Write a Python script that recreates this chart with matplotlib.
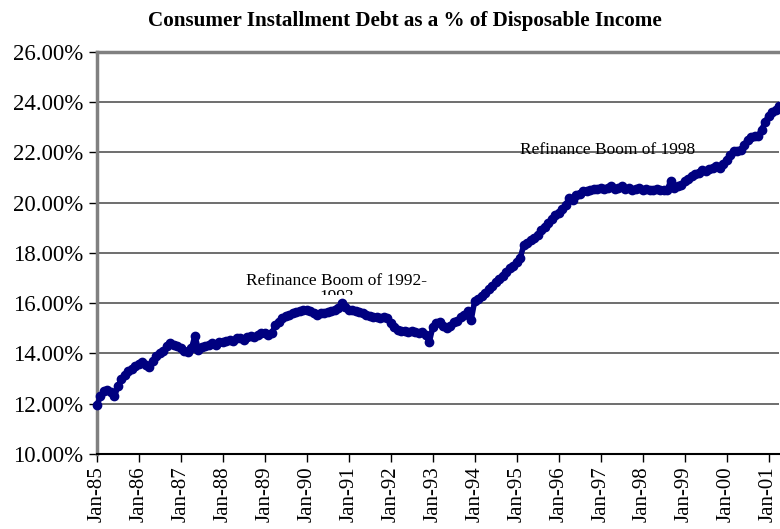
import matplotlib
matplotlib.use('Agg')
import matplotlib.pyplot as plt
from matplotlib.transforms import Bbox
from matplotlib.ticker import FuncFormatter

# monthly debt / disposable income (%), Jan-85 .. Apr-01
y1985 = [11.95, 12.30, 12.50, 12.55, 12.45, 12.30, 12.70, 13.00, 13.15, 13.30, 13.40, 13.50]
y1986 = [13.60, 13.65, 13.55, 13.45, 13.70, 13.90, 14.00, 14.10, 14.30, 14.40, 14.35, 14.30]
y1987 = [14.20, 14.10, 14.05, 14.20, 14.70, 14.15, 14.25, 14.30, 14.35, 14.40, 14.35, 14.45]
y1988 = [14.45, 14.50, 14.55, 14.50, 14.60, 14.60, 14.55, 14.65, 14.70, 14.65, 14.75, 14.80]
y1989 = [14.80, 14.75, 14.80, 15.15, 15.25, 15.40, 15.50, 15.55, 15.60, 15.65, 15.70, 15.75]
y1990 = [15.75, 15.70, 15.60, 15.55, 15.60, 15.60, 15.65, 15.70, 15.75, 15.80, 16.00, 15.85]
y1991 = [15.75, 15.75, 15.70, 15.65, 15.60, 15.55, 15.50, 15.45, 15.45, 15.40, 15.45, 15.40]
y1992 = [15.20, 15.05, 14.95, 14.90, 14.90, 14.85, 14.90, 14.85, 14.80, 14.85, 14.75, 14.45]
y1993 = [15.05, 15.20, 15.25, 15.10, 15.00, 15.10, 15.25, 15.30, 15.45, 15.55, 15.70, 15.35]
y1994 = [16.10, 16.15, 16.30, 16.40, 16.55, 16.70, 16.85, 16.95, 17.10, 17.25, 17.40, 17.50]
y1995 = [17.65, 17.80, 18.30, 18.40, 18.50, 18.60, 18.70, 18.90, 19.05, 19.20, 19.35, 19.50]
y1996 = [19.60, 19.75, 19.90, 20.20, 20.10, 20.30, 20.35, 20.45, 20.45, 20.50, 20.55, 20.55]
y1997 = [20.60, 20.55, 20.60, 20.65, 20.55, 20.60, 20.65, 20.55, 20.60, 20.50, 20.55, 20.60]
y1998 = [20.50, 20.55, 20.50, 20.50, 20.55, 20.50, 20.50, 20.50, 20.85, 20.60, 20.65, 20.70]
y1999 = [20.85, 20.95, 21.05, 21.15, 21.20, 21.30, 21.25, 21.35, 21.40, 21.45, 21.40, 21.55]
y2000 = [21.70, 21.90, 22.05, 22.05, 22.10, 22.30, 22.50, 22.60, 22.65, 22.65, 22.90, 23.20]
y2001 = [23.45, 23.60, 23.70, 23.85]

tick_labels = ['Jan-85', 'Jan-86', 'Jan-87', 'Jan-88', 'Jan-89', 'Jan-90', 'Jan-91', 'Jan-92',
               'Jan-93', 'Jan-94', 'Jan-95', 'Jan-96', 'Jan-97', 'Jan-98', 'Jan-99', 'Jan-00', 'Jan-01']

values = (y1985 + y1986 + y1987 + y1988 + y1989 + y1990 + y1991 + y1992 + y1993
          + y1994 + y1995 + y1996 + y1997 + y1998 + y1999 + y2000 + y2001)
idx = list(range(len(values)))

plt.rcParams['font.family'] = ['Liberation Serif', 'DejaVu Serif']

fig = plt.figure(figsize=(7.8, 5.29), dpi=100)
ax = fig.add_axes([97 / 780, 1 - 454 / 529, 682 / 780, 402 / 529])

navy = '#000080'
ax.plot(idx, values, color=navy, lw=4, marker='o', ms=6, mec=navy, mfc=navy, zorder=3,
        clip_on=False)

ax.set_xlim(0, len(values) - 1)
ax.set_ylim(10, 26)
ax.set_yticks(range(10, 27, 2))
ax.yaxis.set_major_formatter(FuncFormatter(lambda v, p: '%.2f%%' % v))
ax.set_xticks(range(0, 12 * len(tick_labels), 12))
ax.set_xticklabels(tick_labels, rotation=90, va='top', ha='center')
ax.tick_params(axis='y', labelsize=16.5, length=6, width=1, pad=4, colors='black')
ax.tick_params(axis='x', labelsize=15, length=6, width=1, pad=3)

ax.grid(axis='y', color='#555555', lw=1.2)
ax.set_axisbelow(True)
ax.spines['top'].set_color('#808080')
ax.spines['top'].set_linewidth(2.5)
ax.spines['left'].set_color('#808080')
ax.spines['left'].set_linewidth(2.5)
ax.spines['bottom'].set_color('black')
ax.spines['bottom'].set_linewidth(1.5)
ax.spines['right'].set_visible(False)

fig.text(405 / 780, 1 - 21 / 529, 'Consumer Installment Debt as a % of Disposable Income',
         ha='center', va='center', fontsize=15.2, fontweight='bold')

# annotations; the 1992 box clips its second line
t1 = ax.text(68.5, 17.2, 'Refinance Boom of 1992-\n1993', ha='center', va='top',
             fontsize=12.5, linespacing=1.0)
t1.set_clip_box(Bbox.from_extents(0, 529 - 295, 780, 529))
t1.set_clip_on(True)
ax.text(146, 21.95, 'Refinance Boom of 1998', ha='center', va='baseline', fontsize=12.5)

fig.savefig('out.png', dpi=100)
